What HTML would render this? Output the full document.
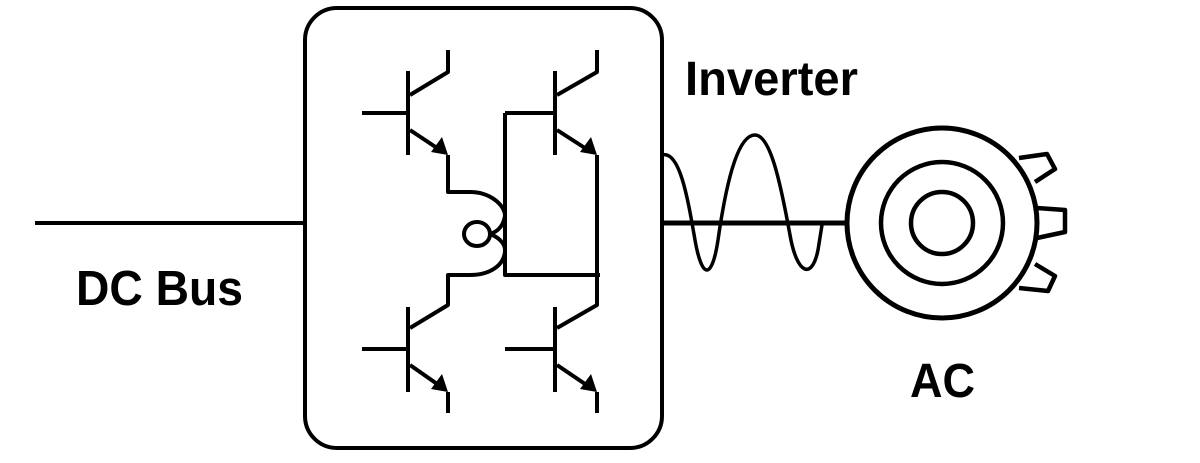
<!DOCTYPE html>
<html><head><meta charset="utf-8"><style>
html,body{margin:0;padding:0;background:#fff;width:1200px;height:463px;overflow:hidden}
svg{display:block}
text{font-family:"Liberation Sans",sans-serif;fill:#000;font-weight:bold}
</style></head><body>
<svg width="1200" height="463" viewBox="0 0 1200 463" xmlns="http://www.w3.org/2000/svg">
<g fill="none" stroke="#000" stroke-width="4" stroke-linejoin="round">
<line x1="35" y1="223" x2="305" y2="223"/>
<rect x="305" y="8" width="357" height="440" rx="32"/>
<!-- T1 -->
<line x1="362" y1="113" x2="408" y2="113"/>
<line x1="408" y1="71" x2="408" y2="155"/>
<polyline points="410,95 448,72 448,50"/>
<line x1="410" y1="130" x2="440" y2="150"/>
<polyline points="448,155 448,192 470,192"/>
<path d="M470,192 C490,192 505,205 505,216 C503,228 496,232 490,234"/>
<ellipse cx="477" cy="234" rx="13" ry="12"/>
<path d="M490,234 C498,237 505,243 505,250 C505,265 490,275 470,275"/>
<polyline points="470,275 448,275 448,305 410,328"/>
<!-- T2 -->
<line x1="505" y1="113" x2="555" y2="113"/>
<line x1="555" y1="71" x2="555" y2="155"/>
<polyline points="557,95 597,72 597,50"/>
<line x1="557" y1="130" x2="588" y2="150"/>
<polyline points="505,113 505,275 600,275"/>
<polyline points="597,155 597,305 557,328"/>
<!-- T3 -->
<line x1="362" y1="349" x2="408" y2="349"/>
<line x1="408" y1="307" x2="408" y2="392"/>
<line x1="410" y1="365" x2="440" y2="386"/>
<line x1="448" y1="392" x2="448" y2="413"/>
<!-- T4 -->
<line x1="505" y1="349" x2="555" y2="349"/>
<line x1="555" y1="307" x2="555" y2="392"/>
<line x1="557" y1="365" x2="588" y2="386"/>
<line x1="597" y1="392" x2="597" y2="413"/>
<!-- wave axis -->
<line x1="662" y1="223" x2="848" y2="223" stroke-width="5"/>
<path d="M662,155 C680,150 688,200 695,240 C702,280 712,280 718,240 C728,170 740,135 755,135 C770,135 780,180 790,235 C797,275 812,280 818,250 L822,225" stroke-width="3.5"/>
<!-- motor -->
<circle cx="942" cy="223" r="95" stroke-width="5"/>
<circle cx="942" cy="223" r="61" stroke-width="4.5"/>
<circle cx="942" cy="223" r="31" stroke-width="4.5"/>
<polyline points="1019,158 1047,154 1055,169 1035,182" stroke-width="4.5"/>
<polyline points="1037,208 1065,210 1065,232 1037,238" stroke-width="4.5"/>
<polyline points="1035,264 1055,276 1048,291 1019,288" stroke-width="4.5"/>
</g>
<g fill="#000">
<polygon points="448,155 431,152 442,137"/>
<polygon points="597,155 580,152 591,137"/>
<polygon points="448,392 431,389 442,374"/>
<polygon points="597,392 580,389 591,374"/>
</g>
<text x="685" y="95" font-size="48" textLength="173" lengthAdjust="spacingAndGlyphs">Inverter</text>
<text x="76" y="305" font-size="49" textLength="167" lengthAdjust="spacingAndGlyphs">DC Bus</text>
<text x="910" y="397" font-size="48" textLength="65" lengthAdjust="spacingAndGlyphs">AC</text>
</svg>
</body></html>
